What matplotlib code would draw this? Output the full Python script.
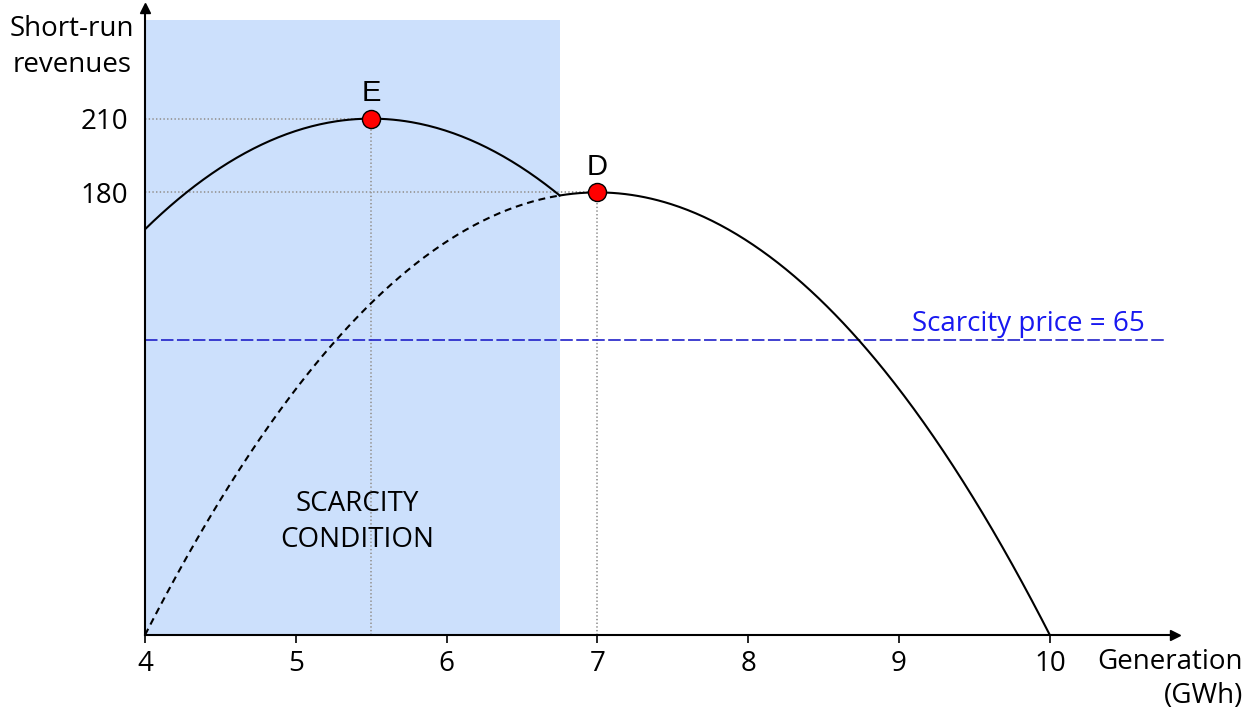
import numpy as np
import matplotlib.pyplot as plt

plt.rcParams['font.family'] = ['Open Sans', 'DejaVu Sans']
plt.rcParams['lines.scale_dashes'] = False

# values
x_ticks = [4, 5, 6, 7, 8, 9, 10]
y_ticks = [180, 210]
point_E = (5.5, 210)   # peak of the scarcity revenue curve
point_D = (7.0, 180)   # peak of the normal revenue curve
curvature = 20         # both curves drop 20 per GWh^2 away from the peak
scarcity_end = 6.75    # right edge of the scarcity region
scarcity_line = 120    # height of the blue dashed line
x_min, x_max = 4, 10.83
y_max = 255

fig = plt.figure(figsize=(12.55, 7.17), dpi=100)
ax = fig.add_axes([145 / 1255, 82 / 717, 1030 / 1255, 627 / 717])
ax.set_xlim(x_min, x_max)
ax.set_ylim(0, y_max)

# shaded scarcity region
ax.axvspan(x_min, scarcity_end, ymax=250 / y_max, color='#cce0fc', lw=0, zorder=0)

def revenue(peak, x):
    return peak[1] - curvature * (x - peak[0]) ** 2

# curve E (scarcity), only inside the shaded region
xe = np.linspace(x_min, scarcity_end, 200)
ax.plot(xe, revenue(point_E, xe), color='black', lw=1.5, zorder=3)

# curve D: dashed inside the scarcity region, solid after
xd1 = np.linspace(x_min, scarcity_end, 200)
xd2 = np.linspace(scarcity_end, 10, 300)
ax.plot(xd1, revenue(point_D, xd1), color='black', lw=1.5, dashes=(5, 3.5), zorder=3)
ax.plot(xd2, revenue(point_D, xd2), color='black', lw=1.5, zorder=3)

# dotted guides
for px, py in (point_E, point_D):
    ax.plot([x_min, px], [py, py], color='#999999', lw=1.3, ls=':', zorder=2)
    ax.plot([px, px], [0, py], color='#999999', lw=1.3, ls=':', zorder=2)

# scarcity price line
ax.plot([x_min, 10.78], [scarcity_line, scarcity_line], color='#2020c8', lw=1.2,
        dashes=(9, 2.5), zorder=2)
ax.text(9.86, scarcity_line + 3.8, 'Scarcity price = 65', color='#1818f0',
        fontsize=20, ha='center', va='baseline')

# points
for label, (px, py) in (('E', point_E), ('D', point_D)):
    ax.plot(px, py, 'o', ms=13, mfc='red', mec='black', mew=1, zorder=5)
    ax.text(px, py + 7, label, fontsize=21, family='Liberation Sans',
            ha='center', va='baseline')

ax.text(5.41, 46, 'SCARCITY\nCONDITION', fontsize=20, ha='center', va='center',
        linespacing=1.38)

# axes with arrows
for s in ('top', 'right'):
    ax.spines[s].set_visible(False)
ax.spines['left'].set_linewidth(1.5)
ax.spines['bottom'].set_linewidth(1.5)
ax.plot(1, 0, '>', color='black', ms=7, transform=ax.transAxes, clip_on=False)
ax.plot(0, 1, '^', color='black', ms=7, transform=ax.transAxes, clip_on=False)

ax.set_xticks(x_ticks)
ax.set_xticklabels([str(v) for v in x_ticks])
ax.set_yticks(y_ticks)
ax.set_yticklabels([str(v) for v in y_ticks])
ax.tick_params(axis='x', length=6, width=1.2, labelsize=20, pad=5)
ax.tick_params(axis='y', length=0, labelsize=20, pad=12)

fig.text(72 / 1255, 1 - 47 / 717, 'Short-run\nrevenues', fontsize=20,
         ha='center', va='center', linespacing=1.42)
fig.text(1243 / 1255, 1 - 679 / 717, 'Generation\n(GWh)', fontsize=20,
         ha='right', va='center', multialignment='right', linespacing=1.28)

fig.savefig('out.png', dpi=100)
